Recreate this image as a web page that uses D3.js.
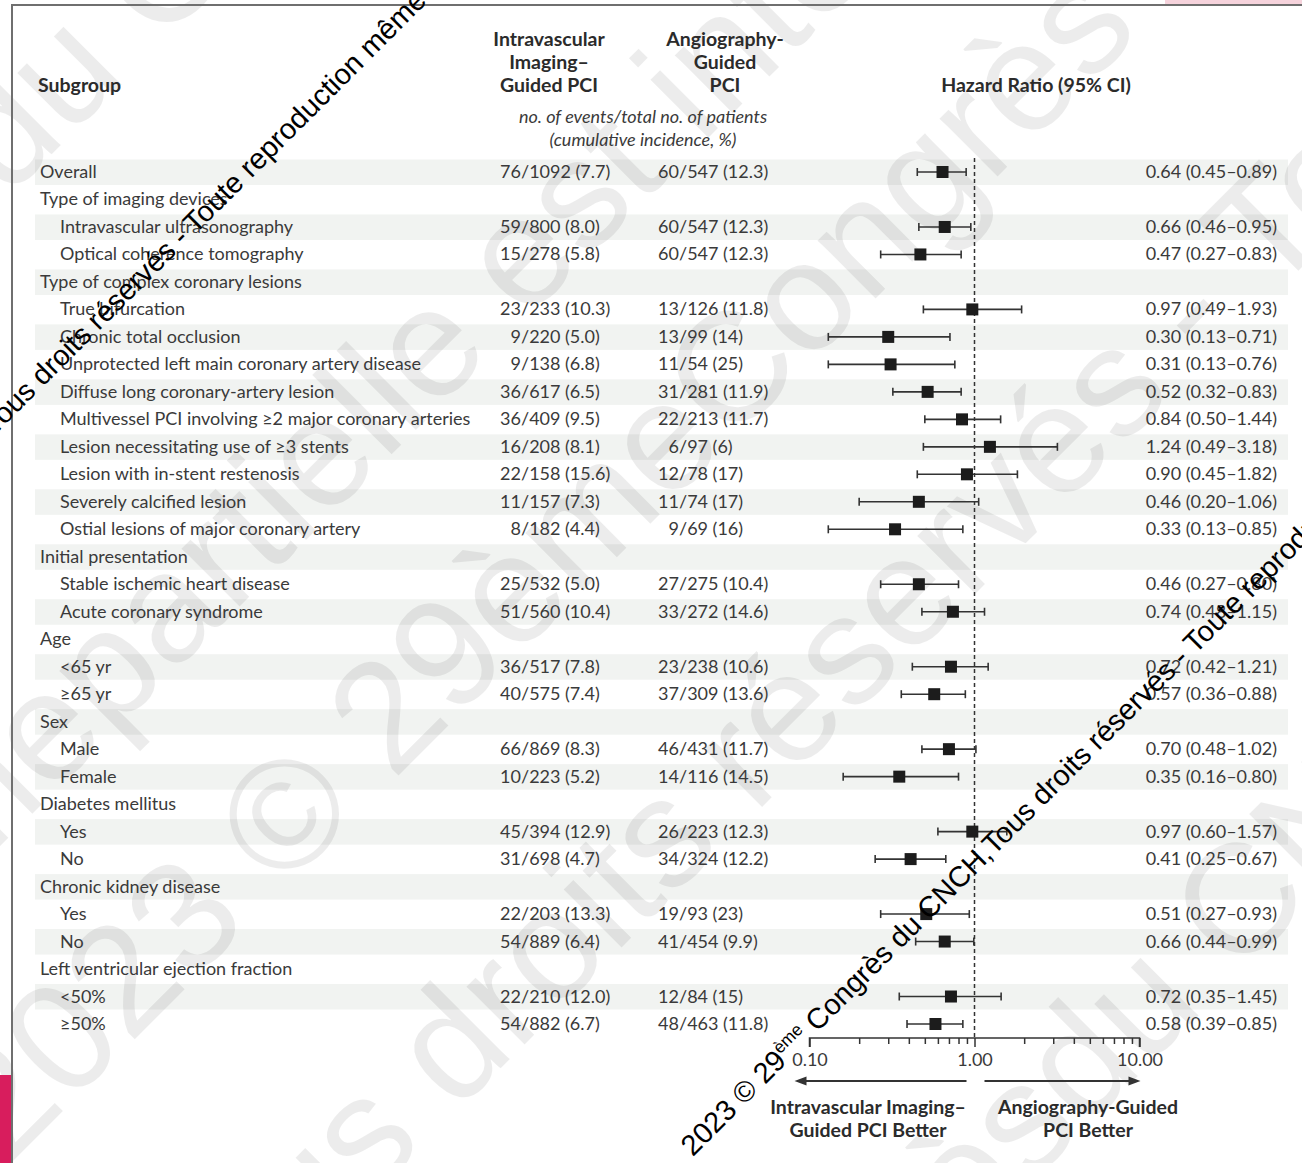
<!DOCTYPE html>
<html>
<head>
<meta charset="utf-8">
<script src="https://cdn.jsdelivr.net/npm/d3@7"></script>
<style>
  html, body { margin: 0; padding: 0; background: #fff; }
  svg { display: block; }
</style>
</head>
<body>
<svg id="chart" width="1302" height="1163"></svg>
<script>
// ---- Data -------------------------------------------------------------
const subgroups = [
  "Overall", "Type of imaging devices", "Intravascular ultrasonography", "Optical coherence tomography",
  "Type of complex coronary lesions", "True bifurcation", "Chronic total occlusion",
  "Unprotected left main coronary artery disease", "Diffuse long coronary-artery lesion",
  "Multivessel PCI involving \u22652 major coronary arteries", "Lesion necessitating use of \u22653 stents",
  "Lesion with in-stent restenosis", "Severely calcified lesion", "Ostial lesions of major coronary artery",
  "Initial presentation", "Stable ischemic heart disease", "Acute coronary syndrome",
  "Age", "<65 yr", "\u226565 yr",
  "Sex", "Male", "Female",
  "Diabetes mellitus", "Yes", "No",
  "Chronic kidney disease", "Yes", "No",
  "Left ventricular ejection fraction", "<50%", "\u226550%"
];
const indentLevel = [0,0,1,1, 0,1,1,1,1,1,1,1,1,1, 0,1,1, 0,1,1, 0,1,1, 0,1,1, 0,1,1, 0,1,1];

const imagingEvents = ["76/1092",null,"59/800","15/278", null,"23/233","9/220","9/138","36/617","36/409","16/208","22/158","11/157","8/182",
  null,"25/532","51/560", null,"36/517","40/575", null,"66/869","10/223", null,"45/394","31/698", null,"22/203","54/889", null,"22/210","54/882"];
const imagingIncidence = ["7.7",null,"8.0","5.8", null,"10.3","5.0","6.8","6.5","9.5","8.1","15.6","7.3","4.4",
  null,"5.0","10.4", null,"7.8","7.4", null,"8.3","5.2", null,"12.9","4.7", null,"13.3","6.4", null,"12.0","6.7"];
const angioEvents = ["60/547",null,"60/547","60/547", null,"13/126","13/99","11/54","31/281","22/213","6/97","12/78","11/74","9/69",
  null,"27/275","33/272", null,"23/238","37/309", null,"46/431","14/116", null,"26/223","34/324", null,"19/93","41/454", null,"12/84","48/463"];
const angioIncidence = ["12.3",null,"12.3","12.3", null,"11.8","14","25","11.9","11.7","6","17","17","16",
  null,"10.4","14.6", null,"10.6","13.6", null,"11.7","14.5", null,"12.3","12.2", null,"23","9.9", null,"15","11.8"];

const hazardRatio = [0.64,null,0.66,0.47, null,0.97,0.30,0.31,0.52,0.84,1.24,0.90,0.46,0.33,
  null,0.46,0.74, null,0.72,0.57, null,0.70,0.35, null,0.97,0.41, null,0.51,0.66, null,0.72,0.58];
const ciLower = [0.45,null,0.46,0.27, null,0.49,0.13,0.13,0.32,0.50,0.49,0.45,0.20,0.13,
  null,0.27,0.48, null,0.42,0.36, null,0.48,0.16, null,0.60,0.25, null,0.27,0.44, null,0.35,0.39];
const ciUpper = [0.89,null,0.95,0.83, null,1.93,0.71,0.76,0.83,1.44,3.18,1.82,1.06,0.85,
  null,0.80,1.15, null,1.21,0.88, null,1.02,0.80, null,1.57,0.67, null,0.93,0.99, null,1.45,0.85];

const majorTicks = [0.1, 1, 10];
const majorTickLabels = ["0.10", "1.00", "10.00"];
const minorTicks = [0.2,0.3,0.4,0.5,0.6,0.7,0.8,0.9, 2,3,4,5,6,7,8,9];

const noticeText = "2023 \u00a9 29\u00e8me Congr\u00e8s du CNCH, Tous droits r\u00e9serv\u00e9s - Toute reproduction m\u00eame partielle est interdite";

// ---- Setup -------------------------------------------------------------
const svg = d3.select("#chart");
const FONT = "Lato, 'Open Sans', sans-serif";
const FS = 18;        // body text
const FSB = 19.5;     // bold headings
const TEXT = "#3a3a3a";

const rowY = d3.scaleLinear().domain([0, subgroups.length - 1]).range([172, 1024]);
const x = d3.scaleLog().domain([0.1, 10]).range([809.5, 1139.5]);
const fmt = d3.format(".2f");

svg.append("rect").attr("width", 1302).attr("height", 1163).attr("fill", "#fff");

// alternating row shading
svg.append("g").selectAll("rect")
  .data(subgroups.map((d, i) => i).filter(i => i % 2 === 0))
  .join("rect")
  .attr("x", 35).attr("width", 1253)
  .attr("y", i => rowY(i) - 12.5).attr("height", 25.5)
  .attr("fill", "#f1f3f1");

// ---- notice lettering along 45° lines -------------------------------------
// The line is split at `word`: the part before it is right-anchored at (px,py),
// the rest starts there. `repeat` tiles the whole notice on both sides.
function noticeLine(g, px, py, size, word, sup, repeat) {
  const k = noticeText.indexOf(word);
  const before = noticeText.slice(0, k), after = noticeText.slice(k);
  const prefix = repeat ? noticeText + " " + before : before;
  const suffix = repeat ? after + " " + noticeText : after;
  const addRuns = (t, str) => {
    if (!sup) { t.append("tspan").text(str); return; }
    str.split("\u00e8me").forEach((p, i) => {
      if (i > 0) {
        t.append("tspan").attr("dy", -size * 0.38).attr("font-size", size * 0.6).text("\u00e8me");
        t.append("tspan").attr("dy", size * 0.38).text(p);
      } else {
        t.append("tspan").text(p);
      }
    });
  };
  [[prefix, "end"], [suffix, "start"]].forEach(([s, anchor]) => {
    if (!s) return;
    const t = g.append("text")
      .attr("transform", `translate(${px},${py}) rotate(-45)`)
      .attr("text-anchor", anchor)
      .attr("font-family", "'Liberation Sans', Arial, sans-serif")
      .attr("font-size", size);
    addRuns(t, s);
  });
}

const faint = svg.append("g").attr("fill", "#000").attr("fill-opacity", 0.075);
noticeLine(faint, 7, 199, 155, "du CNCH", false, true);
noticeLine(faint, 110, 736, 155, "partielle", false, true);
noticeLine(faint, 728, 446, 155, "Congr\u00e8s", false, true);
noticeLine(faint, 194, 1375, 155, "Tous", false, true);
noticeLine(faint, 1084, 1130, 155, "du CNCH", false, true);

// ---- frame ---------------------------------------------------------------
svg.append("rect").attr("x", 0).attr("y", 1075).attr("width", 11).attr("height", 88).attr("fill", "#d81d5d");
svg.append("rect").attr("x", 1165).attr("y", 0).attr("width", 137).attr("height", 4).attr("fill", "#f6d3dc");
svg.append("line").attr("x1", 11).attr("x2", 1302).attr("y1", 5).attr("y2", 5)
  .attr("stroke", "#6f6f6f").attr("stroke-width", 2);
svg.append("line").attr("x1", 12).attr("x2", 12).attr("y1", 4).attr("y2", 1163)
  .attr("stroke", "#6f6f6f").attr("stroke-width", 2);

// ---- column headers ----------------------------------------------------------
const head = svg.append("g").attr("font-family", FONT).attr("font-size", FSB)
  .attr("font-weight", 700).attr("fill", "#2b2b2b");
head.append("text").attr("x", 38).attr("y", 92).text("Subgroup");
[["Intravascular", 46], ["Imaging\u2013", 69], ["Guided PCI", 92]].forEach(([s, y]) =>
  head.append("text").attr("x", 549).attr("y", y).attr("text-anchor", "middle").text(s));
[["Angiography-", 46], ["Guided", 69], ["PCI", 92]].forEach(([s, y]) =>
  head.append("text").attr("x", 725).attr("y", y).attr("text-anchor", "middle").text(s));
head.append("text").attr("x", 1036).attr("y", 92).attr("text-anchor", "middle").text("Hazard Ratio (95% CI)");

const sub = svg.append("g").attr("font-family", FONT).attr("font-size", FS)
  .attr("font-style", "italic").attr("fill", TEXT).attr("text-anchor", "middle");
sub.append("text").attr("x", 643).attr("y", 123).text("no. of events/total no. of patients");
sub.append("text").attr("x", 643).attr("y", 146).text("(cumulative incidence, %)");

// ---- table body ----------------------------------------------------------------
const body = svg.append("g").attr("font-family", FONT).attr("font-size", FS).attr("fill", TEXT);
const rows = body.selectAll("g.row").data(subgroups).join("g").attr("class", "row")
  .attr("transform", (d, i) => `translate(0,${rowY(i) + 6})`);

rows.append("text").attr("x", (d, i) => indentLevel[i] ? 60 : 40).text(d => d);

// event counts are aligned on the slash; hazard ratios flush right
rows.each(function(d, i) {
  if (imagingEvents[i] === null) return;
  const g = d3.select(this);
  const [n1, d1] = imagingEvents[i].split("/");
  g.append("text").attr("x", 521).attr("text-anchor", "end").text(n1);
  g.append("text").attr("x", 521).text(`/${d1} (${imagingIncidence[i]})`);
  const [n2, d2] = angioEvents[i].split("/");
  g.append("text").attr("x", 679).attr("text-anchor", "end").text(n2);
  g.append("text").attr("x", 679).text(`/${d2} (${angioIncidence[i]})`);
  g.append("text").attr("x", 1277).attr("text-anchor", "end")
    .text(`${fmt(hazardRatio[i])} (${fmt(ciLower[i])}\u2013${fmt(ciUpper[i])})`);
});

// ---- forest plot -------------------------------------------------------------------
const plot = svg.append("g");
plot.append("line")
  .attr("x1", x(1)).attr("x2", x(1)).attr("y1", 158).attr("y2", 1038)
  .attr("stroke", "#333").attr("stroke-width", 1.5).attr("stroke-dasharray", "4,3");

const est = subgroups.map((d, i) => i).filter(i => hazardRatio[i] !== null);
const ci = plot.append("g").attr("stroke", "#333").attr("stroke-width", 1.6);
ci.selectAll("line.ci").data(est).join("line").attr("class", "ci")
  .attr("x1", i => x(ciLower[i])).attr("x2", i => x(ciUpper[i]))
  .attr("y1", i => rowY(i)).attr("y2", i => rowY(i));
ci.selectAll("line.capL").data(est).join("line").attr("class", "capL")
  .attr("x1", i => x(ciLower[i])).attr("x2", i => x(ciLower[i]))
  .attr("y1", i => rowY(i) - 4).attr("y2", i => rowY(i) + 4);
ci.selectAll("line.capR").data(est).join("line").attr("class", "capR")
  .attr("x1", i => x(ciUpper[i])).attr("x2", i => x(ciUpper[i]))
  .attr("y1", i => rowY(i) - 4).attr("y2", i => rowY(i) + 4);
plot.selectAll("rect.est").data(est).join("rect").attr("class", "est")
  .attr("x", i => x(hazardRatio[i]) - 6).attr("y", i => rowY(i) - 6)
  .attr("width", 12).attr("height", 12).attr("fill", "#1c1c1c");

// ---- axis ----------------------------------------------------------------------------
const axisY = 1038;
const minorAxis = svg.append("g").attr("transform", `translate(0,${axisY})`)
  .call(d3.axisBottom(x).tickValues(minorTicks).tickSize(6).tickFormat(""));
const majorAxis = svg.append("g").attr("transform", `translate(0,${axisY})`)
  .call(d3.axisBottom(x).tickValues(majorTicks).tickSize(9).tickPadding(6)
    .tickFormat((d, i) => majorTickLabels[i]));
[minorAxis, majorAxis].forEach(a => {
  a.select(".domain").attr("stroke", "#333").attr("stroke-width", 1.5);
  a.selectAll(".tick line").attr("stroke", "#333").attr("stroke-width", 1.5);
});
majorAxis.selectAll(".tick text").attr("font-family", FONT).attr("font-size", FS).attr("fill", TEXT);
minorAxis.select(".domain").remove();
majorAxis.select(".domain").attr("d", `M${x(0.1)},9V0H${x(10)}V9`);

// direction arrows
const arrowY = 1081;
const arrows = svg.append("g").attr("stroke", "#333").attr("stroke-width", 2);
arrows.append("line").attr("x1", x(1) - 8).attr("x2", x(0.1) - 5).attr("y1", arrowY).attr("y2", arrowY);
arrows.append("line").attr("x1", x(1) + 10).attr("x2", x(10) - 5).attr("y1", arrowY).attr("y2", arrowY);
svg.append("path").attr("fill", "#333")
  .attr("d", `M${x(0.1) - 15},${arrowY}L${x(0.1) - 3},${arrowY - 4.5}L${x(0.1) - 3},${arrowY + 4.5}Z`);
svg.append("path").attr("fill", "#333")
  .attr("d", `M${x(10) + 1},${arrowY}L${x(10) - 11},${arrowY - 4.5}L${x(10) - 11},${arrowY + 4.5}Z`);

const dir = svg.append("g").attr("font-family", FONT).attr("font-size", FSB).attr("font-weight", 700)
  .attr("fill", "#2b2b2b").attr("text-anchor", "middle");
dir.append("text").attr("x", 868).attr("y", 1114).text("Intravascular Imaging\u2013");
dir.append("text").attr("x", 868).attr("y", 1137).text("Guided PCI Better");
dir.append("text").attr("x", 1088).attr("y", 1114).text("Angiography-Guided");
dir.append("text").attr("x", 1088).attr("y", 1137).text("PCI Better");

// ---- copyright notice lines ------------------------------------------------------------
const notice = svg.append("g").attr("fill", "#000");
noticeLine(notice, 994, 856, 29, "Tous", true, false);
noticeLine(notice, -6, 436, 29, "Tous", true, false);
</script>
</body>
</html>
